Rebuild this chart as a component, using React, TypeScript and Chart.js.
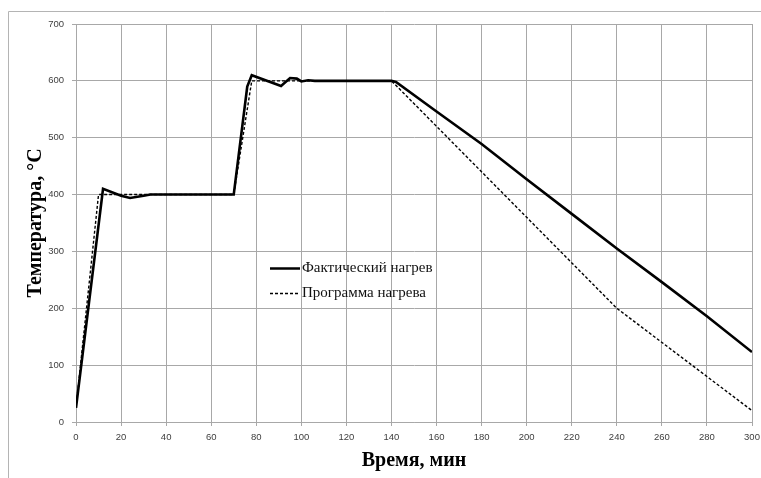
import React, { useEffect, useRef } from "react";
import { Chart, registerables } from "chart.js";

Chart.register(...registerables);

const actualTime = [0, 12, 20, 24, 30, 33, 70, 76, 78, 91, 95, 98, 100, 103, 106, 140, 142, 160, 180, 200, 220, 240, 260, 280, 300];
const actualTemp = [25, 410, 398, 394, 398, 400, 400, 590, 610, 591, 605, 604, 599, 601, 600, 600, 598, 546, 489, 427, 366, 305, 246, 186, 123];

const programTime = [0, 10, 70, 78, 140, 240, 300];
const programTemp = [25, 400, 400, 600, 600, 200, 20];

const seriesNames = ["Фактический нагрев", "Программа нагрева"];
const xTitle = "Время, мин";
const yTitle = "Температура, °С";
const xMin = 0, xMax = 300, xStep = 20;
const yMin = 0, yMax = 700, yStep = 100;

const GRID = "#a8a8a8";
const TICK_FONT = { family: "'Liberation Sans', Arial, sans-serif", size: 9.5 };
const TITLE_FONT = { family: "'Liberation Serif', 'Times New Roman', serif", size: 20, weight: "bold" as const };

const decorPlugin = {
  id: "decor",
  afterDraw(chart: any) {
    const ctx = chart.ctx;
    ctx.save();
    ctx.strokeStyle = "#b4b4b4";
    ctx.lineWidth = 1;
    ctx.beginPath();
    ctx.moveTo(8.5, 478);
    ctx.lineTo(8.5, 11.5);
    ctx.lineTo(761, 11.5);
    ctx.stroke();

    const lx0 = 270, lx1 = 300, tx = 302;
    const rows = [268, 293];
    ctx.font = "15px 'Liberation Serif', 'Times New Roman', serif";
    ctx.textBaseline = "middle";
    ctx.fillStyle = "#111";
    rows.forEach((y, i) => {
      ctx.beginPath();
      ctx.strokeStyle = "#000";
      if (i === 0) {
        ctx.lineWidth = 2.5;
        ctx.setLineDash([]);
      } else {
        ctx.lineWidth = 1.4;
        ctx.setLineDash([3, 2]);
      }
      ctx.moveTo(lx0, y + 0.5);
      ctx.lineTo(lx1, y + 0.5);
      ctx.stroke();
      ctx.setLineDash([]);
      ctx.fillText(seriesNames[i], tx, y);
    });
    ctx.restore();
  },
};

export default function App() {
  const ref = useRef<HTMLCanvasElement | null>(null);

  useEffect(() => {
    if (!ref.current) return;
    const chart = new Chart(ref.current, {
      type: "line",
      data: {
        datasets: [
          {
            label: seriesNames[0],
            data: actualTime.map((t, i) => ({ x: t, y: actualTemp[i] })),
            borderColor: "#000",
            borderWidth: 2.6,
            pointRadius: 0,
            tension: 0,
            fill: false,
            order: 1,
          },
          {
            label: seriesNames[1],
            data: programTime.map((t, i) => ({ x: t, y: programTemp[i] })),
            borderColor: "#000",
            borderWidth: 1.4,
            borderDash: [3, 2],
            pointRadius: 0,
            tension: 0,
            fill: false,
            order: 2,
          },
        ],
      },
      options: {
        animation: false,
        responsive: false,
        maintainAspectRatio: false,
        layout: { padding: { top: 24, right: 9, left: 0, bottom: 0 } },
        plugins: {
          legend: { display: false },
          tooltip: { enabled: false },
        },
        scales: {
          x: {
            type: "linear",
            min: xMin,
            max: xMax,
            ticks: { stepSize: xStep, font: TICK_FONT, color: "#404040", padding: 6, maxRotation: 0 },
            grid: { color: GRID, lineWidth: 1, tickLength: 4, tickColor: GRID },
            border: { color: GRID },
            title: {
              display: true,
              text: xTitle,
              font: TITLE_FONT,
              color: "#000",
              padding: { top: 0, bottom: 5 },
            },
            afterFit: (s: any) => {
              s.height = 56;
              s.paddingLeft = 0;
              s.paddingRight = 0;
            },
          },
          y: {
            type: "linear",
            min: yMin,
            max: yMax,
            ticks: { stepSize: yStep, font: TICK_FONT, color: "#404040", padding: 8 },
            grid: { color: GRID, lineWidth: 1, tickLength: 4, tickColor: GRID },
            border: { color: GRID },
            title: {
              display: true,
              text: yTitle,
              font: TITLE_FONT,
              color: "#000",
              padding: { top: 24, bottom: 0 },
            },
            afterFit: (s: any) => {
              s.width = 76;
              s.paddingTop = 0;
              s.paddingBottom = 0;
            },
          },
        },
      },
      plugins: [decorPlugin],
    });
    return () => chart.destroy();
  }, []);

  return (
    <div style={{ position: "absolute", left: 0, top: 0, width: 761, height: 478, background: "#fff" }}>
      <canvas ref={ref} width={761} height={478} style={{ width: 761, height: 478, display: "block" }} />
    </div>
  );
}
